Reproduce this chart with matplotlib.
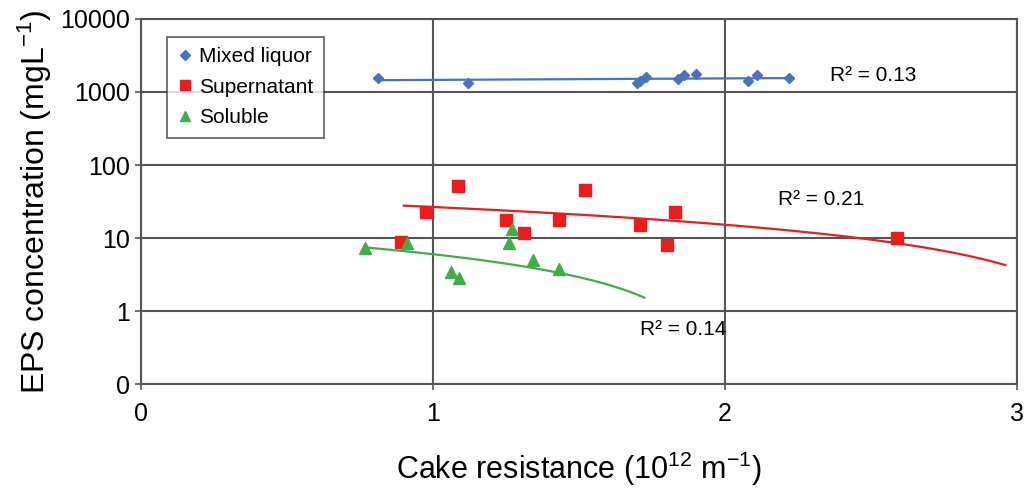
import numpy as np
import matplotlib
matplotlib.use('Agg')
import matplotlib.pyplot as plt

plt.rcParams['font.family'] = ['Liberation Sans', 'DejaVu Sans']
plt.rcParams['mathtext.default'] = 'regular'

# data (x in 10^12 m^-1, y in mg/L)
mixed_x = [0.81, 1.12, 1.70, 1.71, 1.73, 1.84, 1.86, 1.90, 2.08, 2.11, 2.22]
mixed_y = [1550, 1320, 1320, 1400, 1600, 1500, 1700, 1750, 1400, 1700, 1550]
super_x = [0.89, 0.975, 1.085, 1.25, 1.31, 1.43, 1.52, 1.71, 1.80, 1.83, 2.59]
super_y = [8.8, 22.7, 51.5, 17.7, 11.7, 17.7, 45.5, 15.0, 8.0, 22.7, 10.0]
sol_x = [0.766, 0.91, 1.06, 1.09, 1.26, 1.27, 1.342, 1.433]
sol_y = [7.4, 8.45, 3.4, 2.87, 8.6, 13.3, 5.0, 3.76]

# linear trendlines (intercept, slope, x range) as drawn in the original
mixed_trend = (1393, 71, 0.81, 2.22)
super_trend = (38.0, -11.4, 0.90, 2.96)
sol_trend = (12.18, -6.18, 0.773, 1.724)

r2_labels = ['R² = 0.13', 'R² = 0.21', 'R² = 0.14']
r2_pos = [(2.36, 1700), (2.18, 34), (1.71, 0.55)]

yticks = [0.1, 1, 10, 100, 1000, 10000]
yticklabels = ['0', '1', '10', '100', '1000', '10000']

blue = '#4a72c0'
red = '#ec1c1c'
green = '#3fae49'
gridc = '#555555'

fig = plt.figure(figsize=(10.32, 4.93), dpi=100)
ax = fig.add_axes([0.1366, 0.221, 0.8489, 0.7405])

ax.plot(mixed_x, mixed_y, 'D', color=blue, ms=5.5, label='Mixed liquor', zorder=3)
ax.plot(super_x, super_y, 's', color=red, ms=8, label='Supernatant', zorder=3)
ax.plot(sol_x, sol_y, '^', color=green, ms=8, label='Soluble', zorder=3)

for (a, b, x0, x1), c in zip([mixed_trend, super_trend, sol_trend], [blue, red, green]):
    xx = np.linspace(x0, x1, 100)
    ax.plot(xx, a + b * xx, '-', color=c, lw=1.6, zorder=2)

for t, (px, py) in zip(r2_labels, r2_pos):
    ax.text(px, py, t, fontsize=15, va='center', ha='left')

ax.set_yscale('log')
ax.set_ylim(0.1, 10000)
ax.set_xlim(0, 3)
ax.set_yticks(yticks)
ax.set_yticklabels(yticklabels)
ax.set_xticks([0, 1, 2, 3])
ax.yaxis.set_minor_locator(matplotlib.ticker.NullLocator())

ax.grid(True, color=gridc, lw=1.5)
ax.set_axisbelow(True)
for s in ax.spines.values():
    s.set_color(gridc)
    s.set_linewidth(1.5)

ax.tick_params(axis='both', labelsize=18, direction='inout', length=8, width=1.2, color=gridc)
ax.tick_params(axis='x', pad=9)
ax.tick_params(axis='y', pad=4)

ax.set_xlabel('Cake resistance (10$^{12}$ m$^{-1}$)', fontsize=22, labelpad=17)
ax.set_ylabel('EPS concentration (mgL$^{-1}$)', fontsize=23, labelpad=4)

leg = ax.legend(loc='upper left', bbox_to_anchor=(0.0297, 0.951), borderaxespad=0,
                fontsize=15, frameon=True, fancybox=False, edgecolor='#333333',
                handlelength=0.7, handletextpad=0.35, borderpad=0.5, labelspacing=0.55,
                markerscale=0.9)
leg.get_frame().set_linewidth(1.2)

plt.savefig('out.png', dpi=100)
